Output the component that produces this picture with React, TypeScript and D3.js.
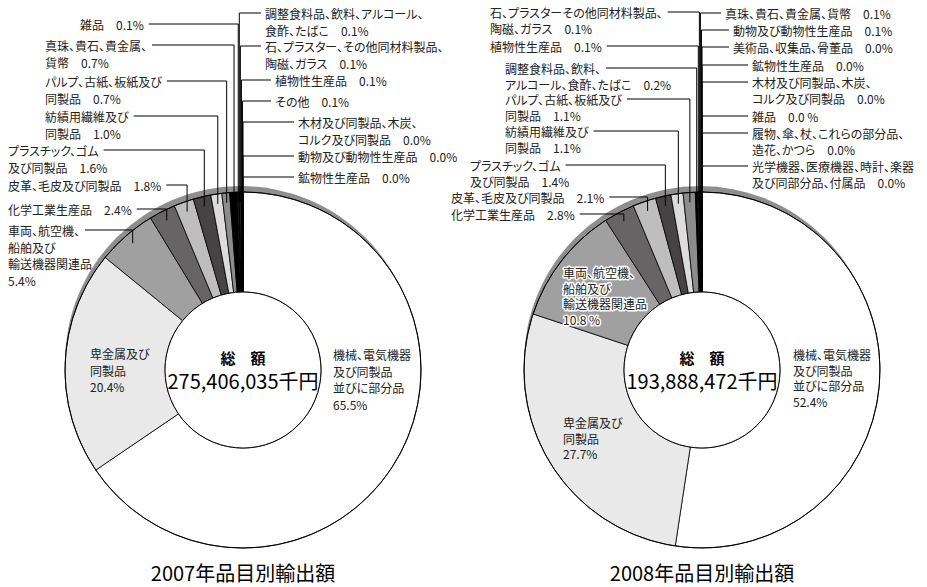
import React, { useEffect, useRef } from 'react';
import * as d3 from 'd3';

// 2007 export by item, clockwise from 12 o'clock
const categories2007 = [
  '機械、電気機器\n及び同製品\n並びに部分品',
  '卑金属及び\n同製品',
  '車両、航空機、\n船舶及び\n輸送機器関連品',
  '化学工業生産品',
  '皮革、毛皮及び同製品',
  'プラスチック、ゴム\n及び同製品',
  '紡績用繊維及び\n同製品',
  'パルプ、古紙、板紙及び\n同製品',
  '真珠、貴石、貴金属、\n貨幣',
  '雑品',
  '調整食料品、飲料、アルコール、\n食酢、たばこ',
  '石、プラスター、その他同材料製品、\n陶磁、ガラス',
  '植物性生産品',
  'その他',
  '木材及び同製品、木炭、\nコルク及び同製品',
  '動物及び動物性生産品',
  '鉱物性生産品',
];
const values2007 = [65.5, 20.4, 5.4, 2.4, 1.8, 1.6, 1.0, 0.7, 0.7, 0.1, 0.1, 0.1, 0.1, 0.1, 0.0, 0.0, 0.0];

const categories2008 = [
  '機械、電気機器\n及び同製品\n並びに部分品',
  '卑金属及び\n同製品',
  '車両、航空機、\n船舶及び\n輸送機器関連品',
  '化学工業生産品',
  '皮革、毛皮及び同製品',
  'プラスチック、ゴム\n及び同製品',
  '紡績用繊維及び\n同製品',
  'パルプ、古紙、板紙及び\n同製品',
  '調整食料品、飲料、\nアルコール、食酢、たばこ',
  '植物性生産品',
  '石、プラスターその他同材料製品、\n陶磁、ガラス',
  '真珠、貴石、貴金属、貨幣',
  '動物及び動物性生産品',
  '美術品、収集品、骨董品',
  '鉱物性生産品',
  '木材及び同製品、木炭、\nコルク及び同製品',
  '雑品',
  '履物、傘、杖、これらの部分品、\n造花、かつら',
  '光学機器、医療機器、時計、楽器\n及び同部分品、付属品',
];
const values2008 = [52.4, 27.7, 10.8, 2.8, 2.1, 1.4, 1.1, 1.1, 0.2, 0.1, 0.1, 0.1, 0.1, 0.0, 0.0, 0.0, 0.0, 0.0, 0.0];

const totals = ['275,406,035千円', '193,888,472千円'];
const titles = ['2007年品目別輸出額', '2008年品目別輸出額'];

const colors2007 = ['#ffffff', '#e8e9e8', '#a0a0a0', '#666465', '#bdbebd', '#474243', '#dcdcdc', '#8c8c8c', '#000000',
  '#666', '#000', '#888', '#000', '#888', '#000', '#000', '#000'];
const colors2008 = ['#ffffff', '#e8e9e8', '#a0a0a0', '#666465', '#bdbebd', '#474243', '#dcdcdc', '#8c8c8c', '#000000',
  '#666', '#000', '#000', '#555', '#000', '#000', '#000', '#000', '#000', '#000'];

type Lab = { x: number; y: number; side: 'L' | 'R' | 'in'; pctLine?: boolean; sep?: string; halo?: boolean };

const layout2007: Lab[] = [
  { x: 333, y: 354, side: 'in', pctLine: true },
  { x: 90, y: 353, side: 'in', pctLine: true },
  { x: 8, y: 230, side: 'L', pctLine: true },
  { x: 8, y: 209, side: 'L' },
  { x: 8, y: 185, side: 'L' },
  { x: 8, y: 150, side: 'L' },
  { x: 45, y: 116, side: 'L' },
  { x: 45, y: 81, side: 'L' },
  { x: 45, y: 45, side: 'L' },
  { x: 80, y: 24, side: 'L' },
  { x: 265, y: 13, side: 'R' },
  { x: 265, y: 46, side: 'R' },
  { x: 275, y: 80, side: 'R' },
  { x: 275, y: 101, side: 'R' },
  { x: 298, y: 122, side: 'R' },
  { x: 298, y: 156, side: 'R' },
  { x: 298, y: 177, side: 'R' },
];

const layout2008: Lab[] = [
  { x: 793, y: 354, side: 'in', pctLine: true },
  { x: 563, y: 422, side: 'in', pctLine: true },
  { x: 563, y: 272, side: 'in', pctLine: true, sep: ' ', halo: true },
  { x: 451, y: 214, side: 'L' },
  { x: 451, y: 197, side: 'L' },
  { x: 470, y: 165, side: 'L' },
  { x: 505, y: 131, side: 'L' },
  { x: 505, y: 99, side: 'L' },
  { x: 505, y: 68, side: 'L' },
  { x: 490, y: 46, side: 'L' },
  { x: 490, y: 12, side: 'L' },
  { x: 725, y: 13, side: 'R' },
  { x: 733, y: 30, side: 'R' },
  { x: 733, y: 47, side: 'R' },
  { x: 752, y: 65, side: 'R' },
  { x: 752, y: 82, side: 'R' },
  { x: 752, y: 116, side: 'R', sep: ' ' },
  { x: 752, y: 133, side: 'R' },
  { x: 752, y: 166, side: 'R' },
];

const FONT = '"Noto Sans CJK JP", "Noto Sans", sans-serif';
const R = 178;
const R0 = 78;
const R_LEAD = 168;

function drawDonut(svg: any, cx: number, cy: number, names: string[], values: number[], colors: string[],
  layout: Lab[], total: string, title: string, lh: number) {
  const pie = d3.pie<number>().sort(null).value(d => d);
  const arcs = pie(values);
  const arc = d3.arc<d3.PieArcDatum<number>>().innerRadius(R0).outerRadius(R);

  const g = svg.append('g').attr('transform', `translate(${cx},${cy})`);
  // gray shadow crescent on top
  g.append('circle').attr('cx', -2).attr('cy', -8).attr('r', R - 2).attr('fill', '#8e8e8e');
  g.append('circle').attr('r', R).attr('fill', '#fff');
  g.selectAll('path.slice')
    .data(arcs)
    .join('path')
    .attr('class', 'slice')
    .attr('d', arc)
    .attr('fill', (d, i) => colors[i])
    .attr('stroke', '#000')
    .attr('stroke-width', 0.8);
  g.append('circle').attr('r', R).attr('fill', 'none').attr('stroke', '#000').attr('stroke-width', 1);
  g.append('circle').attr('r', R0).attr('fill', '#fff').attr('stroke', '#000').attr('stroke-width', 1);

  g.append('text').attr('y', -13).attr('text-anchor', 'middle').attr('dominant-baseline', 'central')
    .style('font-size', '15px').style('font-weight', 'bold').text('総　額');
  g.append('text').attr('y', 10).attr('text-anchor', 'middle').attr('dominant-baseline', 'central')
    .style('font-size', '20px').text(total);

  svg.append('text').attr('x', cx).attr('y', 572).attr('text-anchor', 'middle').attr('dominant-baseline', 'central')
    .style('font-size', '20px').text(title);

  const lines = svg.append('g').attr('stroke', '#000').attr('stroke-width', 1).attr('fill', 'none');

  layout.forEach((lab, i) => {
    const rows = names[i].split('\n');
    const pct = values[i].toFixed(1) + (lab.sep ?? '') + '%';
    if (lab.pctLine) rows.push(pct);
    else rows[rows.length - 1] += '　' + pct;

    const t = svg.append('text')
      .attr('dominant-baseline', 'central')
      .style('font-size', '12px')
      .attr('fill', '#222');
    if (lab.halo) t.attr('stroke', '#fff').attr('stroke-width', 3).attr('paint-order', 'stroke').attr('stroke-linejoin', 'round');
    const spans = rows.map((row, k) =>
      t.append('tspan').attr('x', lab.x).attr('y', lab.y + k * lh).text(row));

    if (lab.side === 'in') return;
    const d = arcs[i];
    const a = (d.startAngle + d.endAngle) / 2;
    const lx = cx + R_LEAD * Math.sin(a);
    const ly = cy - R_LEAD * Math.cos(a);
    if (lab.side === 'L') {
      const w = (spans[0].node() as SVGTSpanElement).getComputedTextLength();
      lines.append('path').attr('d', `M${lab.x + w + 5},${lab.y}H${lx}V${ly}`);
    } else {
      lines.append('path').attr('d', `M${lab.x - 4},${lab.y}H${lx}V${ly}`);
    }
  });
}

export default function App() {
  const ref = useRef<SVGSVGElement>(null);

  useEffect(() => {
    const svg = d3.select(ref.current);
    svg.selectAll('*').remove();
    drawDonut(svg, 243, 370, categories2007, values2007, colors2007, layout2007, totals[0], titles[0], 16.5);
    drawDonut(svg, 702, 370, categories2008, values2008, colors2008, layout2008, totals[1], titles[1], 15.5);
  }, []);

  return (
    <svg
      ref={ref}
      width={927}
      height={587}
      style={{ position: 'absolute', left: 0, top: 0, background: '#fff', fontFamily: FONT, fontFeatureSettings: '"palt"' }}
    />
  );
}
